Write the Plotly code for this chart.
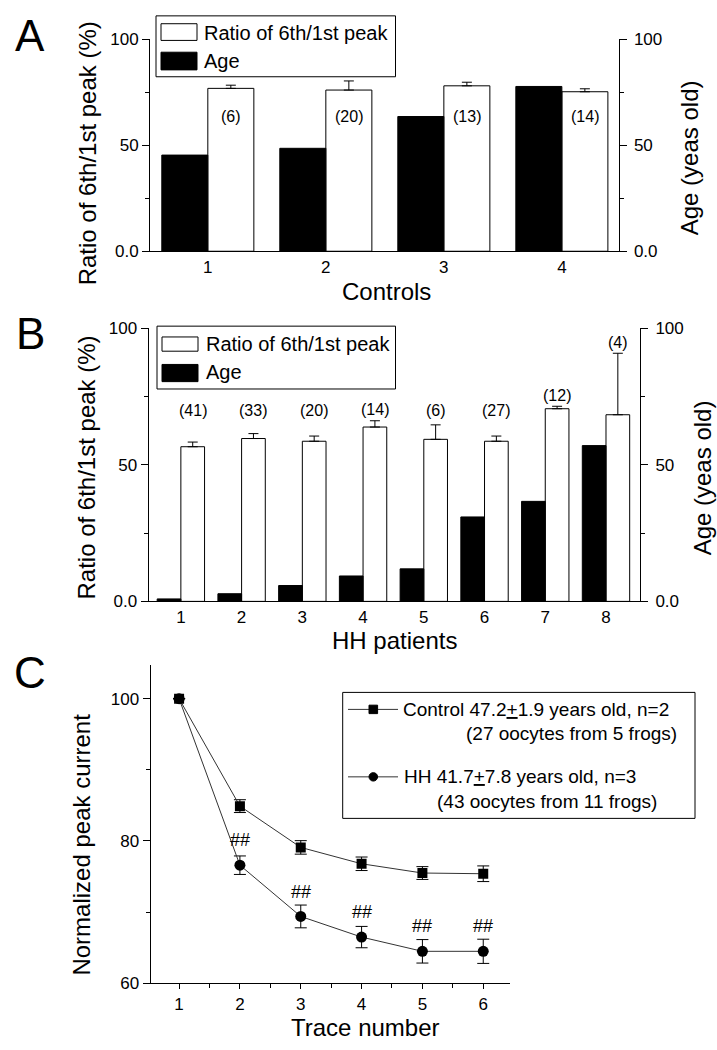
import plotly.graph_objects as go

# ---------------- data ----------------
ctrl_x = [1, 2, 3, 4]
ctrl_age = [45.4, 48.6, 63.6, 77.8]
ctrl_ratio = [76.9, 76.1, 78.1, 75.3]
ctrl_ratio_err = [1.5, 4.3, 1.7, 1.4]
ctrl_n = ["(6)", "(20)", "(13)", "(14)"]

hh_x = [1, 2, 3, 4, 5, 6, 7, 8]
hh_age = [0.9, 2.8, 5.8, 9.3, 11.9, 30.9, 36.6, 57.0]
hh_ratio = [56.6, 59.6, 58.6, 63.8, 59.3, 58.6, 70.5, 68.3]
hh_ratio_err = [1.7, 1.8, 1.9, 2.3, 5.3, 1.9, 0.9, 22.5]
hh_n = ["(41)", "(33)", "(20)", "(14)", "(6)", "(27)", "(12)", "(4)"]

trace_x = [1, 2, 3, 4, 5, 6]
control_curr = [100, 84.9, 79.1, 76.8, 75.5, 75.4]
control_err = [0, 0.9, 0.95, 0.95, 0.9, 1.1]
hh_curr = [100, 76.6, 69.4, 66.5, 64.5, 64.5]
hh_err = [0, 1.3, 1.6, 1.5, 1.65, 1.7]
sig_marks = ["", "##", "##", "##", "##", "##"]

W, H = 717, 1050
FONT = "Liberation Sans, Arial, sans-serif"


def X(p):
    return p / W


def Y(p):
    return 1 - p / H


BAR_W = 0.39

fig = go.Figure()

# ---------------- panel A ----------------
fig.add_trace(go.Bar(x=ctrl_x, y=ctrl_age, xaxis="x", yaxis="y2",
                     width=BAR_W, offset=-BAR_W,
                     marker=dict(color="black", line=dict(color="black", width=1)),
                     showlegend=False))
fig.add_trace(go.Bar(x=ctrl_x, y=ctrl_ratio, xaxis="x", yaxis="y",
                     width=BAR_W, offset=0,
                     marker=dict(color="white", line=dict(color="black", width=1)),
                     error_y=dict(type="data", array=ctrl_ratio_err,
                                  arrayminus=[0] * len(ctrl_x), symmetric=False,
                                  color="black", thickness=1, width=5),
                     showlegend=False))

# ---------------- panel B ----------------
fig.add_trace(go.Bar(x=hh_x, y=hh_age, xaxis="x2", yaxis="y4",
                     width=BAR_W, offset=-BAR_W,
                     marker=dict(color="black", line=dict(color="black", width=1)),
                     showlegend=False))
fig.add_trace(go.Bar(x=hh_x, y=hh_ratio, xaxis="x2", yaxis="y3",
                     width=BAR_W, offset=0,
                     marker=dict(color="white", line=dict(color="black", width=1)),
                     error_y=dict(type="data", array=hh_ratio_err,
                                  arrayminus=[0] * len(hh_x), symmetric=False,
                                  color="black", thickness=1, width=5),
                     showlegend=False))

# ---------------- panel C ----------------
fig.add_trace(go.Scatter(x=trace_x, y=control_curr, xaxis="x3", yaxis="y5",
                         mode="lines+markers",
                         line=dict(color="#333333", width=1),
                         marker=dict(symbol="square", size=10, color="black"),
                         error_y=dict(type="data", array=control_err,
                                      color="black", thickness=1, width=6),
                         showlegend=False))
fig.add_trace(go.Scatter(x=trace_x, y=hh_curr, xaxis="x3", yaxis="y5",
                         mode="lines+markers",
                         line=dict(color="#333333", width=1),
                         marker=dict(symbol="circle", size=11, color="black"),
                         error_y=dict(type="data", array=hh_err,
                                      color="black", thickness=1, width=6),
                         showlegend=False))

# ---------------- axes ----------------
tickfont = dict(family=FONT, size=17, color="black")


def bar_y(domain, side="left", overlaying=None, anchor="x"):
    d = dict(domain=domain, range=[0, 100], anchor=anchor,
             tickvals=[0, 50, 100], ticktext=["0.0", "50", "100"],
             ticks="outside", ticklen=7, tickcolor="black",
             minor=dict(dtick=25, tick0=0, ticks="outside", ticklen=4, tickcolor="black"),
             showline=True, linecolor="black", linewidth=1,
             showgrid=False, zeroline=False, tickfont=tickfont, side=side)
    if overlaying:
        d["overlaying"] = overlaying
        d["ticklabelstandoff"] = 4
    return d


A_dom_x = [X(150), X(618.5)]
A_dom_y = [Y(246.7), Y(31)]
B_dom_x = [X(148.5), X(640)]
B_dom_y = [Y(603.3), Y(325)]
C_dom_x = [X(150.5), X(510)]
C_dom_y = [Y(992.3), Y(668.3)]

fig.update_layout(
    width=W, height=H,
    margin=dict(l=0, r=0, t=0, b=0),
    paper_bgcolor="white", plot_bgcolor="white",
    font=dict(family=FONT, color="black"),
    barmode="overlay",
    showlegend=False,
    xaxis=dict(domain=A_dom_x, anchor="y", range=[0.51, 4.48],
               tickvals=ctrl_x, ticks="", showline=True, linecolor="black",
               linewidth=1, showgrid=False, zeroline=False, tickfont=tickfont),
    yaxis=bar_y(A_dom_y, anchor="x"),
    yaxis2=bar_y(A_dom_y, side="right", overlaying="y", anchor="x"),
    xaxis2=dict(domain=B_dom_x, anchor="y3", range=[0.467, 8.56],
                tickvals=hh_x, ticks="", showline=True, linecolor="black",
                linewidth=1, showgrid=False, zeroline=False, tickfont=tickfont),
    yaxis3=bar_y(B_dom_y, anchor="x2"),
    yaxis4=bar_y(B_dom_y, side="right", overlaying="y3", anchor="x2"),
    xaxis3=dict(domain=C_dom_x, anchor="y5", range=[0.53, 6.44],
                tickvals=trace_x, ticks="outside", ticklen=5, tickcolor="black",
                minor=dict(dtick=0.5, tick0=0.5, ticks="outside", ticklen=4, tickcolor="black"),
                showline=True, linecolor="black", linewidth=1,
                showgrid=False, zeroline=False, tickfont=tickfont),
    yaxis5=dict(domain=C_dom_y, anchor="x3", range=[60, 104.7],
                tickvals=[60, 80, 100], ticks="outside", ticklen=7, tickcolor="black",
                minor=dict(dtick=10, tick0=60, ticks="outside", ticklen=4, tickcolor="black"),
                showline=True, linecolor="black", linewidth=1,
                showgrid=False, zeroline=False, tickfont=tickfont),
)

annotations = []
shapes = []


def text(x, y, s, size, angle=0, xanchor="center", yanchor="middle"):
    annotations.append(dict(x=X(x), y=Y(y), xref="paper", yref="paper", text=s,
                            showarrow=False, textangle=angle, xanchor=xanchor,
                            yanchor=yanchor, borderpad=0,
                            font=dict(family=FONT, size=size, color="black")))


# panel letters
text(30, 27, "A", 44)
text(30, 330, "B", 44)
text(30, 676, "C", 44)

# axis titles
text(87, 147, "Ratio of 6th/1st peak (%)", 24, angle=-90)
text(689, 152, "Age (yeas old)", 24, angle=-90)
text(386, 288, "Controls", 24)
text(87, 467, "Ratio of 6th/1st peak (%)", 24, angle=-90)
text(702, 478, "Age (yeas old)", 24, angle=-90)
text(394, 643, "HH patients", 24)
text(82, 851, "Normalized peak current", 24, angle=-90)
text(365, 1037, "Trace number", 24)

# n labels panel A (inside white bars)
for xi, lab in zip(ctrl_x, ctrl_n):
    annotations.append(dict(x=xi + BAR_W / 2, y=63.6, xref="x", yref="y", text=lab,
                            showarrow=False, font=dict(family=FONT, size=16, color="black")))
# n labels panel B (above bars)
for xi, v, e, lab in zip(hh_x, hh_ratio, hh_ratio_err, hh_n):
    annotations.append(dict(x=xi + BAR_W / 2, y=max(70.0, v + e + 4.0), xref="x2", yref="y3",
                            text=lab, showarrow=False,
                            font=dict(family=FONT, size=16, color="black")))
# significance marks panel C
for xi, v, s in zip(trace_x, hh_curr, sig_marks):
    if s:
        annotations.append(dict(x=xi, y=v + 3.5, xref="x3", yref="y5", text=s,
                                showarrow=False,
                                font=dict(family=FONT, size=18, color="#000000")))


def rect(x0, y0, x1, y1, fill="white", lw=1):
    shapes.append(dict(type="rect", xref="paper", yref="paper",
                       x0=X(x0), x1=X(x1), y0=Y(y1), y1=Y(y0),
                       line=dict(color="black", width=lw), fillcolor=fill, layer="above"))


# legend A
rect(156, 7, 395.5, 69)
rect(161, 15, 197, 32)
rect(161, 44, 197, 62, fill="black")
text(203, 24, "Ratio of 6th/1st peak", 20, xanchor="left")
text(203, 53, "Age", 20, xanchor="left")

# legend B
rect(157, 323, 395.5, 387)
rect(162, 334, 198, 348.5)
rect(162, 362, 198, 379.5, fill="black")
text(205, 341, "Ratio of 6th/1st peak", 20, xanchor="left")
text(205, 370, "Age", 20, xanchor="left")

# legend C
rect(342.7, 696, 695, 824.3)
for yy, sym in [(713.3, "square"), (782, "circle")]:
    shapes.append(dict(type="line", xref="paper", yref="paper",
                       x0=X(348), x1=X(398), y0=Y(yy), y1=Y(yy),
                       line=dict(color="#333333", width=1)))
    shapes.append(dict(type="rect" if sym == "square" else "circle",
                       xref="paper", yref="paper",
                       x0=X(369), x1=X(377.6), y0=Y(yy + 4.3), y1=Y(yy - 4.3),
                       line=dict(color="black", width=1), fillcolor="black"))
text(402, 713.3, "Control 47.2<u>+</u>1.9 years old, n=2", 19, xanchor="left")
text(465, 738, "(27 oocytes from 5 frogs)", 19, xanchor="left")
text(403, 782, "HH 41.7<u>+</u>7.8 years old, n=3", 19, xanchor="left")
text(436, 807, "(43 oocytes from 11 frogs)", 19, xanchor="left")

fig.update_layout(annotations=annotations, shapes=shapes)

fig.write_html("out.html",
               config={"displayModeBar": False},
               post_script="document.body.style.margin='0px';document.body.style.overflow='hidden';")
